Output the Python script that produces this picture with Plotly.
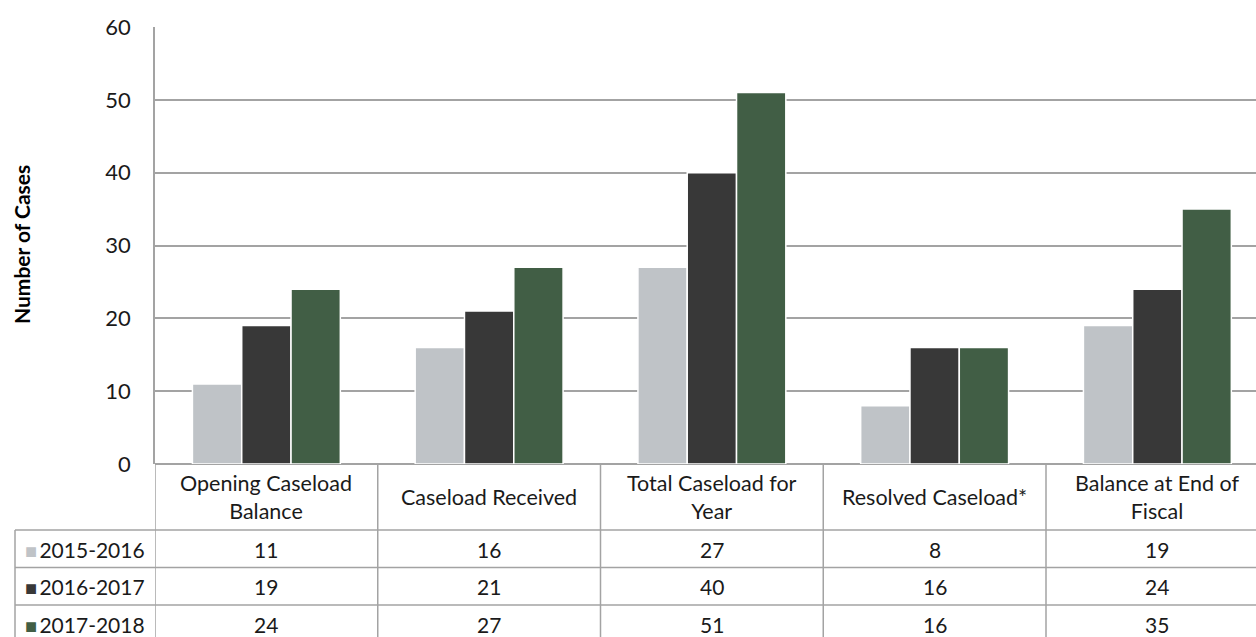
import plotly.graph_objects as go

categories = ["Opening Caseload<br>Balance", "Caseload Received", "Total Caseload for<br>Year",
              "Resolved Caseload*", "Balance at End of<br>Fiscal"]
series_names = ["2015-2016", "2016-2017", "2017-2018"]
values_2015 = [11, 16, 27, 8, 19]
values_2016 = [19, 21, 40, 16, 24]
values_2017 = [24, 27, 51, 16, 35]
colors = ["#BFC3C7", "#383838", "#415E45"]
y_ticks = [0, 10, 20, 30, 40, 50, 60]

W, H = 1256, 637
L, T, B = 155, 27, 173
PW, PH = W - L, H - T - B
FONT = "Lato"
GRID = "#A3A3A3"
TXT = "#1a1a1a"

def py(p):  # pixel y -> paper y
    return (H - B - p) / PH

def px(p):  # pixel x -> paper x
    return (p - L) / PW

xs = list(range(len(categories)))
series = [values_2015, values_2016, values_2017]

fig = go.Figure()
for name, vals, col in zip(series_names, series, colors):
    fig.add_trace(go.Bar(x=xs, y=vals, name=name, marker_color=col,
                         marker_line_color="white", marker_line_width=1.5,
                         hoverinfo="skip"))

shapes = []
for c in range(len(categories)):
    shapes.append(dict(type="line", xref="x", yref="paper", x0=c - 0.5, x1=c - 0.5,
                       y0=py(464), y1=py(H + 5), line=dict(color=GRID, width=1.5)))
shapes.append(dict(type="line", xref="paper", yref="paper", x0=px(15), x1=px(15),
                   y0=py(530), y1=py(H + 5), line=dict(color=GRID, width=1.5)))
row_lines = [530, 567.5, 605]
for r in row_lines:
    shapes.append(dict(type="line", xref="paper", yref="paper", x0=px(15), x1=1,
                       y0=py(r), y1=py(r), line=dict(color=GRID, width=1.5)))

annotations = []
for c, cat in enumerate(categories):
    annotations.append(dict(x=c, xref="x", y=py(497), yref="paper", text=cat,
                            showarrow=False, xanchor="center", yanchor="middle",
                            font=dict(family=FONT, size=21.5, color=TXT)))
row_centers = [549, 586.5, 624]
for name, vals, col, yc in zip(series_names, series, colors, row_centers):
    annotations.append(dict(x=px(23), xref="paper", y=py(yc), yref="paper",
                            text=(f"<span style='color:{col};font-size:20px'>■</span>"
                                  f"<span style='font-size:9px'> </span>{name}"),
                            showarrow=False, xanchor="left", yanchor="middle",
                            font=dict(family=FONT, size=21, color=TXT)))
    for c, v in enumerate(vals):
        annotations.append(dict(x=c, xref="x", y=py(yc), yref="paper", text=str(v),
                                showarrow=False, xanchor="center", yanchor="middle",
                                font=dict(family=FONT, size=21, color=TXT)))
annotations.append(dict(x=px(22), xref="paper", y=py(245), yref="paper",
                        text="<b>Number of Cases</b>", textangle=-90, showarrow=False,
                        xanchor="center", yanchor="middle",
                        font=dict(family=FONT, size=21, color="#000000")))

fig.update_layout(
    width=W, height=H,
    margin=dict(l=L, r=0, t=T, b=B, pad=0),
    paper_bgcolor="white", plot_bgcolor="white",
    barmode="group", bargap=0.336, bargroupgap=0.0,
    showlegend=False,
    shapes=shapes, annotations=annotations,
    xaxis=dict(range=[-0.5, -0.5 + PW / 222.75], showticklabels=False, showgrid=False,
               zeroline=False, showline=False, fixedrange=True),
    yaxis=dict(range=[0, 60], tickvals=y_ticks, showgrid=True, gridcolor=GRID, gridwidth=1.5,
               zeroline=True, zerolinecolor=GRID, zerolinewidth=1.5,
               showline=True, linecolor=GRID, linewidth=1.5,
               ticks="", ticklabelstandoff=18,
               tickfont=dict(family=FONT, size=22, color=TXT), fixedrange=True),
)

fig.write_html("out.html", config={"displayModeBar": False},
               post_script="document.body.style.margin='0';document.body.style.overflow='hidden';")
